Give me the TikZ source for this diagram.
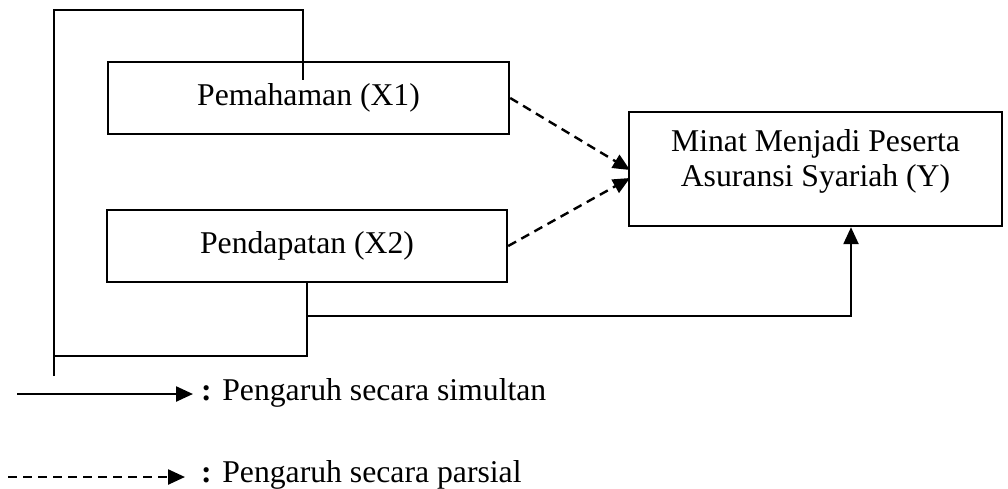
\documentclass[tikz,border=0pt]{standalone}
\usepackage{fontspec}
\setmainfont{Liberation Serif}
\usetikzlibrary{arrows.meta,calc}
\begin{document}
\begin{tikzpicture}[x=1pt,y=-1pt,
  line width=2.4pt,
  every node/.style={font=\fontsize{31.7}{35}\selectfont},
  varbox/.style={draw,rectangle,inner sep=0pt,line width=2.4pt},
  tip/.style={-{Triangle[length=17pt,width=15pt]}},
  dsh/.style={dash pattern=on 9pt off 6pt}]
\useasboundingbox (0,0) rectangle (1008,488);
% boxes
\node[varbox,minimum width=401pt,minimum height=72pt] (X1) at (308.5,98) {};
\node (X1t) at (308.5,98) {Pemahaman (X1)};
\node[varbox,minimum width=400pt,minimum height=72pt] (X2) at (307,246) {};
\node (X2t) at (307,246) {Pendapatan (X2)};
\node[varbox,minimum width=373pt,minimum height=114pt] (Y) at (815.5,169) {};
\node[align=center] (Yt) at (815.5,161) {Minat Menjadi Peserta\\Asuransi Syariah (Y)};
% simultaneous bracket
\coordinate (ltop) at (54,10);
\coordinate (lbot) at (54,376);
\coordinate (rtop) at (303,10);
\coordinate (x1in) at (303,80);
\coordinate (x2down) at (307,356);
\coordinate (lmid) at (54,356);
\coordinate (jn) at (307,316);
\coordinate (yc) at (851,316);
\draw (lbot) -- (ltop) -- (rtop) -- (x1in);
\draw (X2.south) -- (x2down) -- (lmid);
\draw[tip] (jn) -- (yc) -- (yc |- Y.south);
% partial arrows
\coordinate (ya) at (630,170);
\coordinate (yb) at (630,178);
\draw[dsh,tip] (X1.east) -- (ya);
\draw[dsh,tip] (X2.east) -- (yb);
% legend
\coordinate (l1a) at (17,394);
\coordinate (l1b) at (193,394);
\coordinate (l2a) at (8,477);
\coordinate (l2b) at (185,477);
\draw[tip] (l1a) -- (l1b);
\draw[tip,dsh] (l2a) -- (l2b);
\node[anchor=west,inner sep=0pt] (L1) at (200,393) {\textbf{:} Pengaruh secara simultan};
\node[anchor=west,inner sep=0pt] (L2) at (200,475) {\textbf{:} Pengaruh secara parsial};
\end{tikzpicture}
\end{document}
